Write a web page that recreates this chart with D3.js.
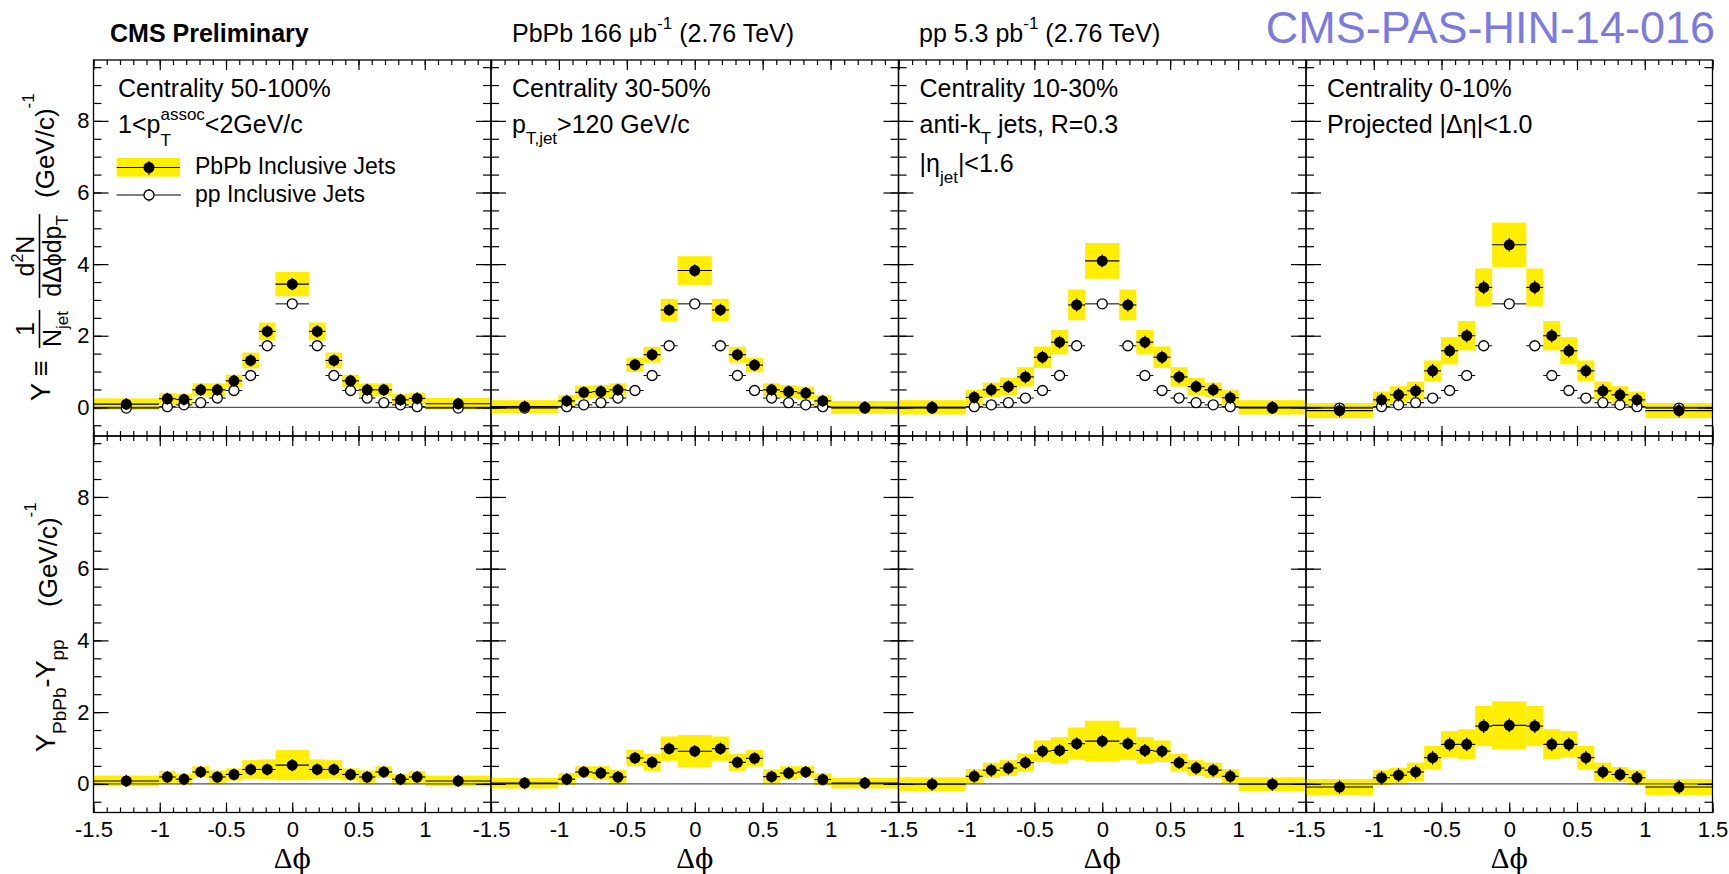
<!DOCTYPE html>
<html>
<head>
<meta charset="utf-8">
<script src="https://cdn.jsdelivr.net/npm/d3@7"></script>
<style>
    body { margin: 0; background: #fff; }
    text { font-family: "Liberation Sans", Arial, sans-serif; white-space: pre; fill: #000; }
</style>
</head>
<body>
<svg id="chart" width="1729" height="874"></svg>
<script>
(function() {
    'use strict';

    // ---- Data ----
    // delta-phi bin edges, same for all panels
    var binEdges = [-1.5, -1.005, -0.880, -0.754, -0.628, -0.503, -0.377, -0.251, -0.126,
                    0.126, 0.251, 0.377, 0.503, 0.628, 0.754, 0.880, 1.005, 1.5];

    var centralities = ["Centrality 50-100%", "Centrality 30-50%", "Centrality 10-30%", "Centrality 0-10%"];

    // pp reference (open circles), identical in all four panels
    var ppY = [-0.02, 0.02, 0.07, 0.13, 0.26, 0.47, 0.89, 1.72, 2.89, 1.72, 0.89, 0.47, 0.26, 0.13, 0.07, 0.02, -0.02];

    // PbPb yields (filled circles) and systematic half-heights (yellow boxes)
    var pbpbY_50_100 = [0.09, 0.24, 0.22, 0.49, 0.49, 0.74, 1.31, 2.12, 3.44, 2.12, 1.31, 0.74, 0.49, 0.49, 0.21, 0.25, 0.10];
    var pbpbSys_50_100 = [0.16, 0.16, 0.16, 0.18, 0.18, 0.17, 0.22, 0.25, 0.34, 0.25, 0.22, 0.17, 0.18, 0.18, 0.16, 0.16, 0.16];
    var pbpbY_30_50 = [0.02, 0.18, 0.42, 0.44, 0.49, 1.19, 1.47, 2.72, 3.82, 2.72, 1.47, 1.18, 0.49, 0.44, 0.40, 0.18, 0.00];
    var pbpbSys_30_50 = [0.18, 0.16, 0.18, 0.18, 0.18, 0.20, 0.22, 0.31, 0.40, 0.31, 0.22, 0.20, 0.18, 0.18, 0.18, 0.16, 0.18];
    var pbpbY_10_30 = [0.00, 0.28, 0.49, 0.58, 0.85, 1.40, 1.82, 2.86, 4.09, 2.86, 1.82, 1.40, 0.85, 0.58, 0.49, 0.27, 0.00];
    var pbpbSys_10_30 = [0.20, 0.21, 0.20, 0.24, 0.27, 0.30, 0.34, 0.43, 0.50, 0.43, 0.34, 0.30, 0.27, 0.24, 0.20, 0.21, 0.20];
    var pbpbY_0_10 = [-0.09, 0.21, 0.35, 0.46, 1.02, 1.58, 2.00, 3.35, 4.54, 3.35, 2.00, 1.58, 1.02, 0.46, 0.35, 0.21, -0.09];
    var pbpbSys_0_10 = [0.21, 0.23, 0.24, 0.26, 0.29, 0.38, 0.41, 0.53, 0.62, 0.53, 0.41, 0.38, 0.29, 0.26, 0.24, 0.23, 0.21];

    // PbPb - pp difference (bottom row)
    var diffY_50_100 = [0.08, 0.19, 0.13, 0.33, 0.19, 0.26, 0.40, 0.40, 0.52, 0.40, 0.40, 0.26, 0.19, 0.33, 0.13, 0.19, 0.08];
    var diffSys_50_100 = [0.15, 0.17, 0.15, 0.16, 0.18, 0.17, 0.26, 0.28, 0.42, 0.28, 0.26, 0.17, 0.18, 0.16, 0.15, 0.17, 0.15];
    var diffY_30_50 = [0.02, 0.13, 0.33, 0.30, 0.19, 0.72, 0.60, 0.98, 0.91, 0.98, 0.60, 0.71, 0.20, 0.30, 0.33, 0.12, 0.02];
    var diffSys_30_50 = [0.15, 0.17, 0.16, 0.19, 0.20, 0.23, 0.24, 0.34, 0.45, 0.34, 0.24, 0.23, 0.20, 0.19, 0.16, 0.17, 0.15];
    var diffY_10_30 = [-0.01, 0.21, 0.38, 0.44, 0.59, 0.91, 0.93, 1.12, 1.19, 1.12, 0.93, 0.91, 0.59, 0.44, 0.38, 0.21, -0.01];
    var diffSys_10_30 = [0.19, 0.20, 0.21, 0.22, 0.25, 0.30, 0.37, 0.45, 0.57, 0.45, 0.37, 0.30, 0.25, 0.22, 0.21, 0.20, 0.19];
    var diffY_0_10 = [-0.09, 0.17, 0.24, 0.33, 0.73, 1.10, 1.10, 1.61, 1.63, 1.61, 1.10, 1.10, 0.73, 0.33, 0.26, 0.17, -0.09];
    var diffSys_0_10 = [0.22, 0.21, 0.21, 0.26, 0.33, 0.37, 0.42, 0.56, 0.67, 0.56, 0.42, 0.37, 0.33, 0.26, 0.21, 0.21, 0.22];

    // typical statistical error per panel (mostly hidden behind the markers)
    var statErrTop = [0.17, 0.17, 0.18, 0.19];
    var statErrBottom = [0.17, 0.17, 0.18, 0.19];

    var xMajorTicks = [-1.5, -1, -0.5, 0, 0.5, 1, 1.5];
    var yMajorTicks = [0, 2, 4, 6, 8];

    var panels = [
        { name: centralities[0], pbpb: pbpbY_50_100, pbpbSys: pbpbSys_50_100, diff: diffY_50_100, diffSys: diffSys_50_100 },
        { name: centralities[1], pbpb: pbpbY_30_50, pbpbSys: pbpbSys_30_50, diff: diffY_30_50, diffSys: diffSys_30_50 },
        { name: centralities[2], pbpb: pbpbY_10_30, pbpbSys: pbpbSys_10_30, diff: diffY_10_30, diffSys: diffSys_10_30 },
        { name: centralities[3], pbpb: pbpbY_0_10, pbpbSys: pbpbSys_0_10, diff: diffY_0_10, diffSys: diffSys_0_10 }
    ];

    // ---- Layout ----
    var YELLOW = "#ffee00";
    var SERIF = "Liberation Serif, DejaVu Serif, serif";
    var PHI_FONT = "DejaVu Serif, serif";
    var padLeft = [93.5, 491, 898.5, 1306];
    var padRight = [491, 898.5, 1306, 1712.5];
    var rowTop = 60, rowMid = 436, rowBottom = 812.5;

    var svg = d3.select("#chart");

    var yTop = d3.scaleLinear().domain([-0.8, 9.7]).range([rowMid, rowTop]);
    var yBot = d3.scaleLinear().domain([-0.8, 9.7]).range([rowBottom, rowMid]);

    var bins = binEdges.slice(0, -1).map(function(lo, i) {
        return { lo: lo, hi: binEdges[i + 1], c: (lo + binEdges[i + 1]) / 2 };
    });

    // text with sub/superscripts placed side by side; returns end x
    function rich(g, x, y, parts, size) {
        var cx = x;
        parts.forEach(function(p) {
            if (p.t) {
                var t = g.append("text").attr("x", cx).attr("y", y).attr("font-size", p.fs || size).text(p.t);
                if (p.bold) t.attr("font-weight", "bold");
                if (p.font) t.attr("font-family", p.font);
                cx += t.node().getComputedTextLength();
            }
            var w = 0, ss = p.ss || size * 0.68;
            if (p.sup) {
                var s = g.append("text").attr("x", cx).attr("y", y - (p.up || size * 0.52))
                    .attr("font-size", ss).text(p.sup);
                w = Math.max(w, s.node().getComputedTextLength());
            }
            if (p.sub) {
                var b = g.append("text").attr("x", cx).attr("y", y + (p.down || size * 0.45))
                    .attr("font-size", ss).text(p.sub);
                w = Math.max(w, b.node().getComputedTextLength());
            }
            cx += w;
        });
        return cx;
    }

    function drawData(g, x, y, vals, sys, stat, ref) {
        // systematic boxes
        g.append("g").selectAll("rect").data(bins).enter().append("rect")
            .attr("x", function(d) { return x(d.lo); })
            .attr("width", function(d) { return x(d.hi) - x(d.lo); })
            .attr("y", function(d, i) { return y(vals[i] + sys[i]); })
            .attr("height", function(d, i) { return y(vals[i] - sys[i]) - y(vals[i] + sys[i]); })
            .attr("fill", YELLOW);

        // zero line
        g.append("line")
            .attr("x1", x(-1.5)).attr("x2", x(1.5))
            .attr("y1", y(0)).attr("y2", y(0))
            .attr("stroke", "#555").attr("stroke-width", 1.2);

        if (ref) {
            g.append("g").selectAll("line").data(bins).enter().append("line")
                .attr("x1", function(d) { return x(d.lo); })
                .attr("x2", function(d) { return x(d.hi); })
                .attr("y1", function(d, i) { return y(ref[i]); })
                .attr("y2", function(d, i) { return y(ref[i]); })
                .attr("stroke", "#000").attr("stroke-width", 1);
            g.append("g").selectAll("circle").data(bins).enter().append("circle")
                .attr("cx", function(d) { return x(d.c); })
                .attr("cy", function(d, i) { return y(ref[i]); })
                .attr("r", 5)
                .attr("fill", "#fff").attr("stroke", "#000").attr("stroke-width", 1.3);
        }

        g.append("g").selectAll("line").data(bins).enter().append("line")
            .attr("x1", function(d) { return x(d.lo); })
            .attr("x2", function(d) { return x(d.hi); })
            .attr("y1", function(d, i) { return y(vals[i]); })
            .attr("y2", function(d, i) { return y(vals[i]); })
            .attr("stroke", "#000").attr("stroke-width", 1.1);
        g.append("g").selectAll("line").data(bins).enter().append("line")
            .attr("x1", function(d) { return x(d.c); })
            .attr("x2", function(d) { return x(d.c); })
            .attr("y1", function(d, i) { return y(vals[i] + stat); })
            .attr("y2", function(d, i) { return y(vals[i] - stat); })
            .attr("stroke", "#000").attr("stroke-width", 1.2);
        g.append("g").selectAll("circle").data(bins).enter().append("circle")
            .attr("cx", function(d) { return x(d.c); })
            .attr("cy", function(d, i) { return y(vals[i]); })
            .attr("r", 5.5)
            .attr("fill", "#000");
    }

    function styleAxis(sel) {
        sel.select(".domain").remove();
        sel.selectAll(".tick line").attr("stroke-width", 1.2);
        sel.selectAll("text").attr("font-size", 22).attr("font-family", "Liberation Sans, Arial, sans-serif");
        sel.attr("font-family", null).attr("font-size", null);
    }

    function drawFrame(g, x, y, top, bottom, labelX, labelY, idx) {
        var minorX = d3.range(-15, 16).map(function(d) { return d / 10; });
        var minorY = d3.range(-1, 20).map(function(d) { return d / 2; });
        var left = x.range()[0], right = x.range()[1];

        // x axis, bottom (ticks inward)
        g.append("g").attr("transform", "translate(0," + bottom + ")")
            .call(d3.axisBottom(x).tickValues(minorX).tickSizeInner(-5).tickSizeOuter(0).tickFormat(""))
            .call(styleAxis);
        g.append("g").attr("transform", "translate(0," + bottom + ")")
            .call(d3.axisBottom(x)
                .tickValues(labelX ? xMajorTicks.filter(function(d) { return idx === 3 || d < 1.5; }) : xMajorTicks)
                .tickSizeInner(-10).tickSizeOuter(0).tickPadding(8.6)
                .tickFormat(function(d) { return labelX ? String(d) : ""; }))
            .call(styleAxis);
        // x axis, top
        g.append("g").attr("transform", "translate(0," + top + ")")
            .call(d3.axisTop(x).tickValues(minorX).tickSizeInner(-5).tickSizeOuter(0).tickFormat(""))
            .call(styleAxis);
        g.append("g").attr("transform", "translate(0," + top + ")")
            .call(d3.axisTop(x).tickValues(xMajorTicks).tickSizeInner(-10).tickSizeOuter(0).tickFormat(""))
            .call(styleAxis);

        // y axis, left and right
        g.append("g").attr("transform", "translate(" + left + ",0)")
            .call(d3.axisLeft(y).tickValues(minorY).tickSizeInner(-8).tickSizeOuter(0).tickFormat(""))
            .call(styleAxis);
        g.append("g").attr("transform", "translate(" + left + ",0)")
            .call(d3.axisLeft(y).tickValues(yMajorTicks).tickSizeInner(-15).tickSizeOuter(0).tickPadding(4)
                .tickFormat(function(d) { return labelY ? String(d) : ""; }))
            .call(styleAxis);
        g.append("g").attr("transform", "translate(" + right + ",0)")
            .call(d3.axisRight(y).tickValues(minorY).tickSizeInner(-8).tickSizeOuter(0).tickFormat(""))
            .call(styleAxis);
        g.append("g").attr("transform", "translate(" + right + ",0)")
            .call(d3.axisRight(y).tickValues(yMajorTicks).tickSizeInner(-15).tickSizeOuter(0).tickFormat(""))
            .call(styleAxis);

        g.append("rect")
            .attr("x", left).attr("y", top)
            .attr("width", right - left).attr("height", bottom - top)
            .attr("fill", "none").attr("stroke", "#000").attr("stroke-width", 1.3);

        if (labelX) {
            var t = g.append("text")
                .attr("x", x(0)).attr("y", 868)
                .attr("text-anchor", "middle")
                .attr("font-size", 29);
            t.append("tspan").attr("font-family", SERIF).text("\u0394");
            t.append("tspan").attr("font-family", PHI_FONT).attr("font-size", 27).text("\u03d5");
        }
    }

    // ---- Panels ----
    panels.forEach(function(p, i) {
        var x = d3.scaleLinear().domain([-1.5, 1.5]).range([padLeft[i], padRight[i]]);
        var gTop = svg.append("g").attr("class", "panel-top");
        drawData(gTop, x, yTop, p.pbpb, p.pbpbSys, statErrTop[i], ppY);
        drawFrame(gTop, x, yTop, rowTop, rowMid, false, i === 0, i);

        var gBot = svg.append("g").attr("class", "panel-bottom");
        drawData(gBot, x, yBot, p.diff, p.diffSys, statErrBottom[i], null);
        drawFrame(gBot, x, yBot, rowMid, rowBottom, true, i === 0, i);

        var tx = padLeft[i] + (i === 0 ? 24.5 : 21);
        rich(svg, tx, 97, [{ t: p.name }], 25);
    });

    // panel annotations
    rich(svg, 118, 133, [{ t: "1<p", sup: "assoc", sub: "T", up: 13, down: 13 }, { t: "<2GeV/c" }], 25);
    rich(svg, 512, 133, [{ t: "p", sub: "T,jet", down: 11 }, { t: ">120 GeV/c" }], 25);
    rich(svg, 919.5, 133, [{ t: "anti-k", sub: "T", down: 11 }, { t: " jets, R=0.3" }], 25);
    rich(svg, 919.5, 172, [{ t: "|\u03b7", sub: "jet", down: 11 }, { t: "|<1.6" }], 25);
    rich(svg, 1327, 133, [{ t: "Projected |\u0394\u03b7|<1.0" }], 25);

    // legend
    var leg = svg.append("g").attr("class", "legend");
    leg.append("rect").attr("x", 116.7).attr("y", 158).attr("width", 63.3).attr("height", 18.7).attr("fill", YELLOW);
    leg.append("line").attr("x1", 116.7).attr("x2", 180).attr("y1", 167.5).attr("y2", 167.5).attr("stroke", "#000").attr("stroke-width", 1.1);
    leg.append("line").attr("x1", 149).attr("x2", 149).attr("y1", 161).attr("y2", 175).attr("stroke", "#000").attr("stroke-width", 1.1);
    leg.append("circle").attr("cx", 149).attr("cy", 167.5).attr("r", 5.5).attr("fill", "#000");
    leg.append("line").attr("x1", 116.7).attr("x2", 181).attr("y1", 195).attr("y2", 195).attr("stroke", "#000").attr("stroke-width", 1);
    leg.append("line").attr("x1", 149).attr("x2", 149).attr("y1", 189).attr("y2", 201.5).attr("stroke", "#000").attr("stroke-width", 1);
    leg.append("circle").attr("cx", 149).attr("cy", 195).attr("r", 5).attr("fill", "#fff").attr("stroke", "#000").attr("stroke-width", 1.3);
    rich(leg, 195, 174, [{ t: "PbPb Inclusive Jets" }], 23);
    rich(leg, 195, 202, [{ t: "pp Inclusive Jets" }], 23);

    // header
    rich(svg, 110, 42, [{ t: "CMS Preliminary", bold: true }], 25);
    rich(svg, 512, 42, [{ t: "PbPb 166 \u03bcb", sup: "-1", up: 13 }, { t: " (2.76 TeV)" }], 25);
    rich(svg, 919, 42, [{ t: "pp 5.3 pb", sup: "-1", up: 13 }, { t: " (2.76 TeV)" }], 25);
    svg.append("text")
        .attr("x", 1715).attr("y", 43)
        .attr("text-anchor", "end")
        .attr("font-size", 45)
        .style("fill", "#7b7bdf")
        .text("CMS-PAS-HIN-14-016");

    // ---- Rotated y titles (group frame: u = -screenY, v = screenX) ----
    var gy = svg.append("g").attr("transform", "rotate(-90)");
    rich(gy, -401, 50, [{ t: "Y \u2261" }], 27);

    function frac(g, uc, num, den, size, vNum, vDen, vLine) {
        var gn = g.append("g"), gd = g.append("g");
        var wn = rich(gn, 0, vNum, num, size);
        var wd = rich(gd, 0, vDen, den, size);
        var w = Math.max(wn, wd) + 2;
        gn.attr("transform", "translate(" + (uc - wn / 2) + ",0)");
        gd.attr("transform", "translate(" + (uc - wd / 2) + ",0)");
        g.append("line").attr("x1", uc - w / 2).attr("x2", uc + w / 2)
            .attr("y1", vLine).attr("y2", vLine).attr("stroke", "#000").attr("stroke-width", 1.6);
    }
    frac(gy, -329, [{ t: "1" }], [{ t: "N", sub: "jet", down: 7, ss: 17 }], 25, 34, 61, 39.5);
    frac(gy, -256, [{ t: "d", sup: "2", up: 11, ss: 16 }, { t: "N" }],
        [{ t: "d\u0394" }, { t: "\u03d5", font: PHI_FONT, fs: 23 }, { t: "dp", sub: "T", down: 7, ss: 17 }], 25, 34, 61, 39.5);
    rich(gy, -198, 54, [{ t: "(GeV/c)", sup: "-1", up: 20, ss: 17 }], 26);

    var gy2 = svg.append("g").attr("transform", "rotate(-90)");
    rich(gy2, -752, 55, [{ t: "Y", sub: "PbPb", down: 11, ss: 19 }, { t: "-Y", sub: "pp", down: 9, ss: 19 }], 27);
    rich(gy2, -607, 57, [{ t: "(GeV/c)", sup: "-1", up: 21, ss: 17 }], 26);

})();
</script>
</body>
</html>
